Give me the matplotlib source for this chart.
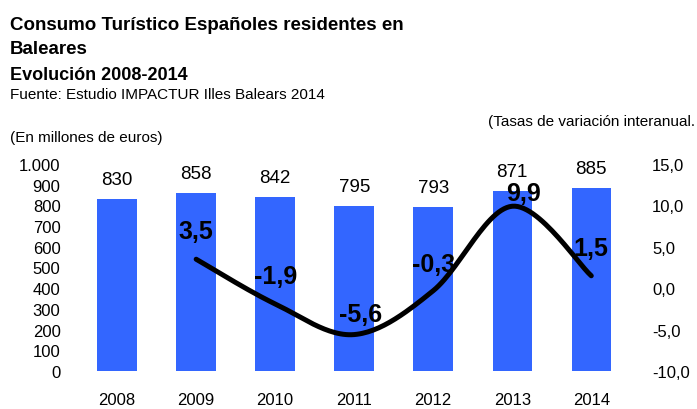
import numpy as np
import matplotlib
matplotlib.use("Agg")
import matplotlib.pyplot as plt
from matplotlib.ticker import FuncFormatter

plt.rcParams['font.family'] = ['Liberation Sans', 'DejaVu Sans']

# datos
years = ['2008', '2009', '2010', '2011', '2012', '2013', '2014']
consumo = [830, 858, 842, 795, 793, 871, 885]          # millones de euros
tasa_years = [1, 2, 3, 4, 5, 6]                         # indices 2009..2014
tasa = [3.5, -1.9, -5.6, -0.3, 9.9, 1.5]                # variacion interanual %

# where each rate label sits relative to its point (pixels)
label_shift = [(0, 28), (0, 28), (6, 21), (0, 27), (11, 13), (0, 28)]

W, H = 697, 410
fig = plt.figure(figsize=(W / 100, H / 100), dpi=100)

# axes placed in pixel units
left, right, top, bottom = 80, 630, 165, 372
ax = fig.add_axes([left / W, 1 - bottom / H, (right - left) / W, (bottom - top) / H])
ax2 = ax.twinx()

x = np.arange(len(years))
bar_color = '#3366FF'
ax.bar(x, consumo, width=0.5, color=bar_color, zorder=1)
for xi, v in zip(x, consumo):
    ax.annotate(str(v), (xi, v), xytext=(0, 14), textcoords='offset points',
                ha='center', va='center', fontsize=13.5)

ax.set_xlim(-0.47, 6.49)
ax.set_ylim(0, 1000)
ax.set_yticks(range(0, 1001, 100))
ax.yaxis.set_major_formatter(FuncFormatter(lambda v, p: f'{int(v):,}'.replace(',', '.')))
ax.set_xticks(x)
ax.set_xticklabels(years)
ax.tick_params(axis='both', length=0, labelsize=12)
ax.tick_params(axis='y', pad=14)
ax.tick_params(axis='x', pad=15)


# smooth line like the spreadsheet one (catmull-rom through the points)
def smooth(px, py, n=30):
    P = np.column_stack([np.asarray(px, float), np.asarray(py, float)])
    P = np.vstack([P[0], P, P[-1]])
    out = []
    for i in range(1, len(P) - 2):
        p0, p1, p2, p3 = P[i - 1], P[i], P[i + 1], P[i + 2]
        c1 = p1 + (p2 - p0) / 6
        c2 = p2 - (p3 - p1) / 6
        t = np.linspace(0, 1, n)[:, None]
        seg = (1 - t) ** 3 * p1 + 3 * (1 - t) ** 2 * t * c1 + 3 * (1 - t) * t ** 2 * c2 + t ** 3 * p2
        out.append(seg)
    s = np.vstack(out)
    return s[:, 0], s[:, 1]


sx, sy = smooth(tasa_years, tasa)
ax2.plot(sx, sy, color='black', lw=3.6, solid_capstyle='round', zorder=3)
for xi, v, (dx, dy) in zip(tasa_years, tasa, label_shift):
    ax2.annotate(f'{v:.1f}'.replace('.', ','), (xi, v), xytext=(dx * 0.72, dy * 0.72),
                 textcoords='offset points', ha='center', va='center',
                 fontsize=18, fontweight='bold')

ax2.set_ylim(-10, 15)
ax2.set_yticks(np.arange(-10, 15.1, 5))
ax2.yaxis.set_major_formatter(FuncFormatter(lambda v, p: f'{v:.1f}'.replace('.', ',')))
ax2.tick_params(axis='y', length=0, labelsize=12, pad=16)

for a in (ax, ax2):
    for sp in a.spines.values():
        sp.set_visible(False)

# headings
fig.text(10 / W, 1 - 30 / H, 'Consumo Turístico Españoles residentes en',
         fontsize=13.5, fontweight='bold', va='baseline')
fig.text(10 / W, 1 - 54 / H, 'Baleares', fontsize=13.5, fontweight='bold', va='baseline')
fig.text(10 / W, 1 - 80 / H, 'Evolución 2008-2014', fontsize=13, fontweight='bold', va='baseline')
fig.text(10 / W, 1 - 99 / H, 'Fuente: Estudio IMPACTUR Illes Balears 2014', fontsize=11, va='baseline')
fig.text(10 / W, 1 - 142 / H, '(En millones de euros)', fontsize=11, va='baseline')
fig.text(488 / W, 1 - 126 / H, '(Tasas de variación interanual.', fontsize=11, va='baseline')

fig.savefig('out.png', dpi=100)
